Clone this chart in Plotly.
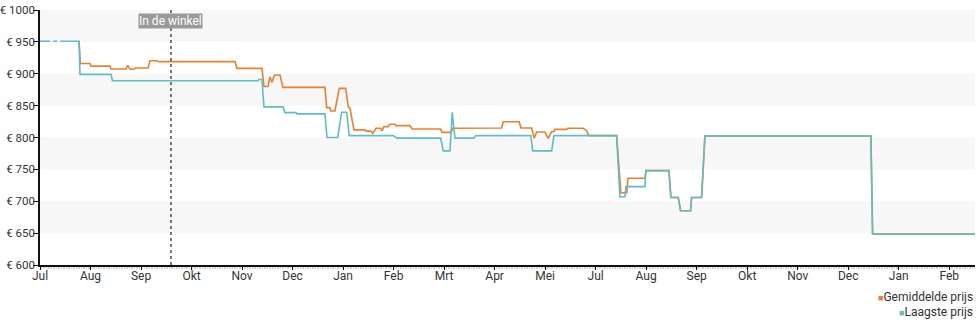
import plotly.graph_objects as go

# Time axis: months counted from the first July shown (0 = 1 Jul), fractional within a month
month_labels = ["Jul", "Aug", "Sep", "Okt", "Nov", "Dec", "Jan", "Feb", "Mrt", "Apr",
                "Mei", "Jul", "Aug", "Sep", "Okt", "Nov", "Dec", "Jan", "Feb"]
month_ticks = list(range(len(month_labels)))

# Average price (Gemiddelde prijs)
avg_t = [0.772, 0.80, 0.99, 1.01, 1.386, 1.405, 1.702, 1.736, 1.782, 1.861, 1.89, 2.138,
         2.177, 2.316, 2.355, 3.86, 3.9, 4.394, 4.434, 4.513, 4.553, 4.592, 4.642, 4.751,
         4.81, 5.641, 5.675, 5.74, 5.76, 5.839, 5.924, 6.051, 6.103, 6.136, 6.215, 6.433,
         6.453, 6.552, 6.586, 6.651, 6.744, 6.77, 6.809, 6.888, 6.928, 7.027, 7.047, 7.324,
         7.37, 7.932, 7.957, 8.136, 8.175, 8.591, 8.61, 9.139, 9.171, 9.487, 9.521, 9.733,
         9.784, 9.832, 9.996, 10.061, 10.129, 10.174, 10.194, 10.425, 10.451, 10.754, 10.822,
         10.867, 11.415, 11.5, 11.619, 11.639, 11.976, 11.996, 12.451, 12.49, 12.635, 12.682,
         12.88, 12.9, 13.098, 13.163, 16.449, 16.483, 18.51]
avg_price = [951, 916, 916, 912, 912, 907.5, 907.5, 913, 907, 907, 909, 909,
             920.5, 920.5, 919, 919, 908.5, 908.5, 880, 880, 895, 886.6, 898, 898,
             878.7, 878.7, 846.8, 846.8, 841.6, 841.6, 877, 877, 848, 846, 812, 812,
             810, 810, 806.5, 814.4, 814.4, 810.5, 817, 817, 820.7, 820.7, 818.6, 818.6,
             813.3, 813.3, 808, 808, 814.4, 814.4, 815, 815, 824.8, 824.8, 814.9, 814.9,
             798.7, 808.6, 808.6, 798.7, 809, 809, 812.8, 812.8, 814.4, 814.4, 810.7,
             803, 803, 713.4, 713.4, 736, 736, 748, 748, 706, 706, 685,
             685, 706, 706, 802.4, 802.4, 648.6, 648.6]

# Lowest price (Laagste prijs); None marks days without data
low_t = [0, 0.2, None, 0.26, 0.34, None, 0.40, 0.772, 0.792, 1.405, 1.435, 4.315, 4.335,
         4.394, 4.434, 4.81, 4.85, 5.067, 5.087, 5.641, 5.681, 5.893, 5.972, 6.071, 6.122,
         6.993, 7.067, 7.932, 7.983, 8.116, 8.161, 8.215, 8.591, 8.63, 9.719, 9.753, 10.129,
         10.174, 11.415, 11.481, 11.58, 11.6, 11.976, 11.996, 12.451, 12.49, 12.635, 12.682,
         12.88, 12.9, 13.098, 13.163, 16.449, 16.483, 18.51]
low_price = [951, 951, None, 951, 951, None, 951, 951, 899, 899, 889, 889, 891,
             891, 848, 848, 839, 839, 837, 837, 800, 800, 839.5, 839.5, 803,
             803, 799, 799, 779, 779, 839.5, 799, 799, 803, 803, 779, 779,
             803, 803, 707, 707, 723, 723, 748, 748, 706, 706, 685,
             685, 706, 706, 802.4, 802.4, 648.6, 648.6]

store_date = 2.593   # "In de winkel"
y_ticks = list(range(600, 1001, 50))
y_labels = [f"€ {v}" for v in y_ticks]

ORANGE = "#e9802f"
TEAL = "#5ebdc5"
TEXT = "#333333"

series = [("Gemiddelde prijs", avg_t, avg_price, ORANGE),
          ("Laagste prijs", low_t, low_price, TEAL)]

fig = go.Figure()
for name, xs, ys, col in series:
    fig.add_trace(go.Scatter(x=xs, y=ys, mode="lines", name=name,
                             line=dict(color=col, width=1.6), showlegend=False))

# alternating horizontal bands
shapes = []
for lo, hi in zip(y_ticks[1::2], y_ticks[2::2]):
    shapes.append(dict(type="rect", xref="paper", yref="y", x0=0, x1=1, y0=lo, y1=hi,
                       fillcolor="#f7f7f7", line=dict(width=0), layer="below"))
shapes.append(dict(type="line", xref="x", yref="paper", x0=store_date, x1=store_date,
                   y0=0, y1=1, line=dict(color="#222", width=1.2, dash="dot")))

annotations = [dict(x=store_date, y=1000, xref="x", yref="y", yshift=-11,
                    text="In de winkel", showarrow=False,
                    font=dict(color="white", size=12, family="Roboto"),
                    bgcolor="#9a9a9a", borderpad=0)]
# compact legend below the plot, one row per series
for i, (name, _, _, col) in enumerate(series):
    annotations.append(dict(
        x=1, y=0, xref="paper", yref="paper", xanchor="right", yanchor="middle",
        yshift=-32 - 15 * i, showarrow=False, align="right",
        text=f"<span style='color:{col};font-size:9px'>■</span>{name}",
        font=dict(size=12, color=TEXT, family="Roboto")))

fig.update_layout(
    width=980, height=325,
    margin=dict(l=40, r=5, t=10, b=60, autoexpand=False),
    plot_bgcolor="white", paper_bgcolor="white",
    font=dict(family="Roboto", size=12, color=TEXT),
    shapes=shapes,
    annotations=annotations,
    showlegend=False,
    xaxis=dict(range=[0, 18.51], tickvals=month_ticks, ticktext=month_labels,
               ticklabelstandoff=-4,
               showgrid=False, zeroline=False, showline=True, linecolor="#111", linewidth=1.5,
               ticks="outside", ticklen=3, tickcolor="#111",
               minor=dict(ticks="outside", dtick=1 / 30.44, ticklen=2, tickcolor="#d4d4d4",
                          showgrid=False)),
    yaxis=dict(range=[600, 1000], tickvals=y_ticks, ticktext=y_labels,
               tickfont=dict(size=11.5), ticklabelstandoff=-4,
               showgrid=False, zeroline=False, showline=True, linecolor="#111", linewidth=1.5,
               ticks="outside", ticklen=5, tickcolor="#111"),
)

fig.write_html("out.html")
